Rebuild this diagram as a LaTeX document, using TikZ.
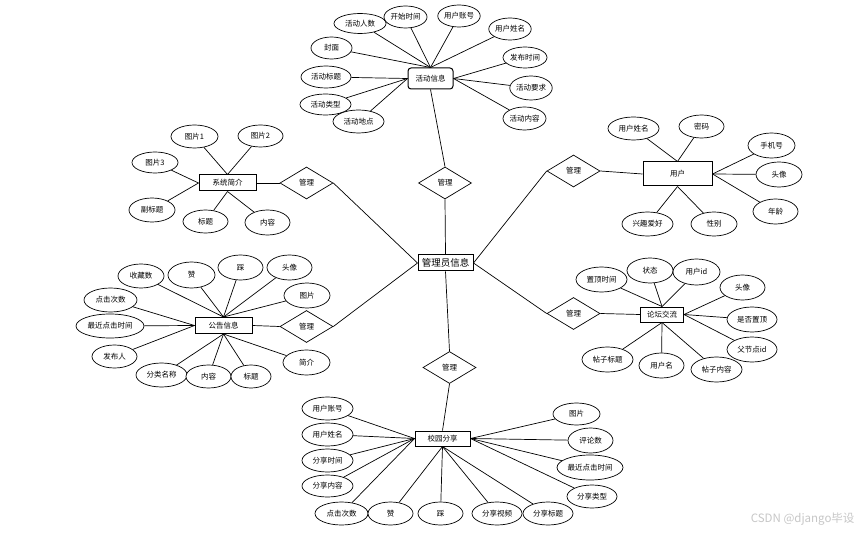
\documentclass[tikz,border=0pt]{standalone}
\usepackage{fontspec}
\newfontfamily\cjk{Noto Sans CJK SC}
\usetikzlibrary{shapes.geometric}
\begin{document}
\begin{tikzpicture}[x=1pt,y=-1pt,
  every node/.style={font=\cjk\fontsize{7.5}{8}\selectfont},
  attr/.style args={#1x#2}{ellipse,draw=black,line width=0.7pt,fill=white,inner sep=0pt,minimum width=#1pt,minimum height=#2pt},
  ent/.style args={#1x#2}{rectangle,draw=black,line width=1pt,fill=white,inner sep=0pt,minimum width=#1pt,minimum height=#2pt},
  rel/.style={diamond,draw=black,line width=0.7pt,fill=white,inner sep=0pt,minimum width=53pt,minimum height=32pt},
  lk/.style={line width=0.7pt}]
\useasboundingbox (0,0) rectangle (861,534);
\fill[white] (0,0) rectangle (861,534);
% ---------- centre
\node[ent=55x16,font=\cjk\fontsize{9.5}{10}\selectfont] (adm) at (445.5,263) {管理员信息};
\node[rel] (dT)  at (445,183) {管理};
\node[rel] (dUL) at (306.5,183) {管理};
\node[rel] (dUR) at (573.5,171) {管理};
\node[rel] (dLL) at (306.5,326.5) {管理};
\node[rel] (dLR) at (573.5,313.5) {管理};
\node[rel] (dB)  at (449.5,367.5) {管理};
% ---------- entities
\node[ent=45x21,rounded corners=3pt] (act) at (430.5,78.5) {活动信息};
\node[ent=57x16] (sys) at (227.5,183) {系统简介};
\node[ent=57x16] (ann) at (223.5,325.5) {公告信息};
\node[ent=69x24] (usr) at (677.5,174) {用户};
\node[ent=43x15] (frm) at (662,314.5) {论坛交流};
\node[ent=55x15] (shr) at (442.5,438.5) {校园分享};
% ---------- centre links
\draw[lk] (dT.south) -- (adm.north);
\draw[lk] (dT.north) -- (act.south);
\draw[lk] (dUL.east) -- (adm.west);
\draw[lk] (dLL.east) -- (adm.west);
\draw[lk] (dUR.west) -- (adm.east);
\draw[lk] (dLR.west) -- (adm.east);
\draw[lk] (dB.north) -- (adm.south);
\draw[lk] (dB.south) -- (shr.north);
\draw[lk] (sys.east) -- (dUL.west);
\draw[lk] (ann.east) -- (dLL.west);
\draw[lk] (usr.west) -- (dUR.east);
\draw[lk] (frm.west) -- (dLR.east);
% ---------- 活动信息
\node[attr=52x20] (a1) at (360,23.5) {活动人数};
\node[attr=43x22] (a2) at (405.5,17) {开始时间};
\node[attr=42x22] (a3) at (459,16) {用户账号};
\node[attr=42x22] (a4) at (510,29) {用户姓名};
\node[attr=41x22] (a5) at (331.5,48) {封面};
\node[attr=44x21] (a6) at (525,57.5) {发布时间};
\node[attr=50x22] (a7) at (326,77) {活动标题};
\node[attr=42x24] (a8) at (531,88) {活动要求};
\node[attr=51x21] (a9) at (325.5,104.5) {活动类型};
\node[attr=51x23] (a10) at (358.5,121.5) {活动地点};
\node[attr=43x23] (a11) at (524.5,118.5) {活动内容};
\foreach \n in {a1,a2,a3,a4,a5} \draw[lk] (\n) -- (act.north);
\foreach \n in {a7,a9,a10} \draw[lk] (\n) -- (act.west);
\foreach \n in {a6,a8,a11} \draw[lk] (\n) -- (act.east);
% ---------- 系统简介
\node[attr=47x23] (s1) at (194.5,136.5) {图片1};
\node[attr=45x22] (s2) at (260.5,136) {图片2};
\node[attr=46x21] (s3) at (155,162.5) {图片3};
\node[attr=46x24] (s4) at (152,210) {副标题};
\node[attr=45x23] (s5) at (205.5,221.5) {标题};
\node[attr=45x25] (s6) at (267.5,222.5) {内容};
\foreach \n in {s1,s2} \draw[lk] (\n) -- (sys.north);
\foreach \n in {s3,s4} \draw[lk] (\n) -- (sys.west);
\foreach \n in {s5,s6} \draw[lk] (\n) -- (sys.south);
% ---------- 公告信息
\node[attr=46x24] (n1) at (141,276) {收藏数};
\node[attr=47x26] (n2) at (191.5,275) {赞};
\node[attr=45x25] (n3) at (240.5,267.5) {踩};
\node[attr=45x25] (n4) at (289.5,267.5) {头像};
\node[attr=46x25] (n5) at (307,295.5) {图片};
\node[attr=53x24] (n6) at (110.5,300) {点击次数};
\node[attr=68x24] (n7) at (110,326) {最近点击时间};
\node[attr=45x23] (n8) at (114.5,356.5) {发布人};
\node[attr=51x24] (n9) at (161.5,375) {分类名称};
\node[attr=45x23] (n10) at (208.5,376.5) {内容};
\node[attr=40x23] (n11) at (251,376.5) {标题};
\node[attr=47x25] (n12) at (306.5,362.5) {简介};
\foreach \n in {n1,n2,n3,n4,n5} \draw[lk] (\n) -- (ann.north);
\foreach \n in {n6,n7,n8} \draw[lk] (\n) -- (ann.west);
\foreach \n in {n9,n10,n11,n12} \draw[lk] (\n) -- (ann.south);
% ---------- 用户
\node[attr=51x23] (u1) at (633.5,128.5) {用户姓名};
\node[attr=45x23] (u2) at (701.5,126.5) {密码};
\node[attr=47x25] (u3) at (771.5,145.5) {手机号};
\node[attr=46x25] (u4) at (779,174.5) {头像};
\node[attr=45x25] (u5) at (775.5,211.5) {年龄};
\node[attr=51x24] (u6) at (647.5,224) {兴趣爱好};
\node[attr=46x24] (u7) at (714,224) {性别};
\foreach \n in {u1,u2} \draw[lk] (\n) -- (usr.north);
\foreach \n in {u3,u4,u5} \draw[lk] (\n) -- (usr.east);
\foreach \n in {u6,u7} \draw[lk] (\n) -- (usr.south);
% ---------- 论坛交流
\node[attr=51x25] (f1) at (601.5,279.5) {置顶时间};
\node[attr=46x25] (f2) at (650,270.5) {状态};
\node[attr=47x26] (f3) at (696.5,272) {用户id};
\node[attr=45x25] (f4) at (742.5,287.5) {头像};
\node[attr=50x25] (f5) at (752,319.5) {是否置顶};
\node[attr=50x25] (f6) at (752,349.5) {父节点id};
\node[attr=51x25] (f7) at (607.5,359.5) {帖子标题};
\node[attr=45x25] (f8) at (661.5,365.5) {用户名};
\node[attr=51x25] (f9) at (716.5,369.5) {帖子内容};
\foreach \n in {f1,f2,f3} \draw[lk] (\n) -- (frm.north);
\foreach \n in {f4,f5,f6} \draw[lk] (\n) -- (frm.east);
\foreach \n in {f7,f8,f9} \draw[lk] (\n) -- (frm.south);
% ---------- 校园分享
\node[attr=51x23] (h1) at (327.5,408.5) {用户账号};
\node[attr=51x23] (h2) at (327.5,434.5) {用户姓名};
\node[attr=51x23] (h3) at (327.5,460.5) {分享时间};
\node[attr=51x22] (h4) at (327.5,486) {分享内容};
\node[attr=53x23] (h5) at (341.5,513.5) {点击次数};
\node[attr=45x23] (h6) at (390.5,513.5) {赞};
\node[attr=45x23] (h7) at (440.5,513.5) {踩};
\node[attr=50x23] (h8) at (497,513.5) {分享视频};
\node[attr=50x23] (h9) at (548,513.5) {分享标题};
\node[attr=47x22] (h10) at (576.5,414) {图片};
\node[attr=45x25] (h11) at (590.5,440.5) {评论数};
\node[attr=66x25] (h12) at (590,467.5) {最近点击时间};
\node[attr=50x23] (h13) at (592,496.5) {分享类型};
\foreach \n in {h1,h2,h3,h4,h5} \draw[lk] (\n) -- (shr.west);
\foreach \n in {h6,h7,h8,h9} \draw[lk] (\n) -- (shr.south);
\foreach \n in {h10,h11,h12,h13} \draw[lk] (\n) -- (shr.east);
% ---------- watermark
\node[text=black!22,font=\cjk\fontsize{11.5}{12}\selectfont,anchor=east] (wm) at (858,519.5) {CSDN @django毕设};
\end{tikzpicture}
\end{document}
